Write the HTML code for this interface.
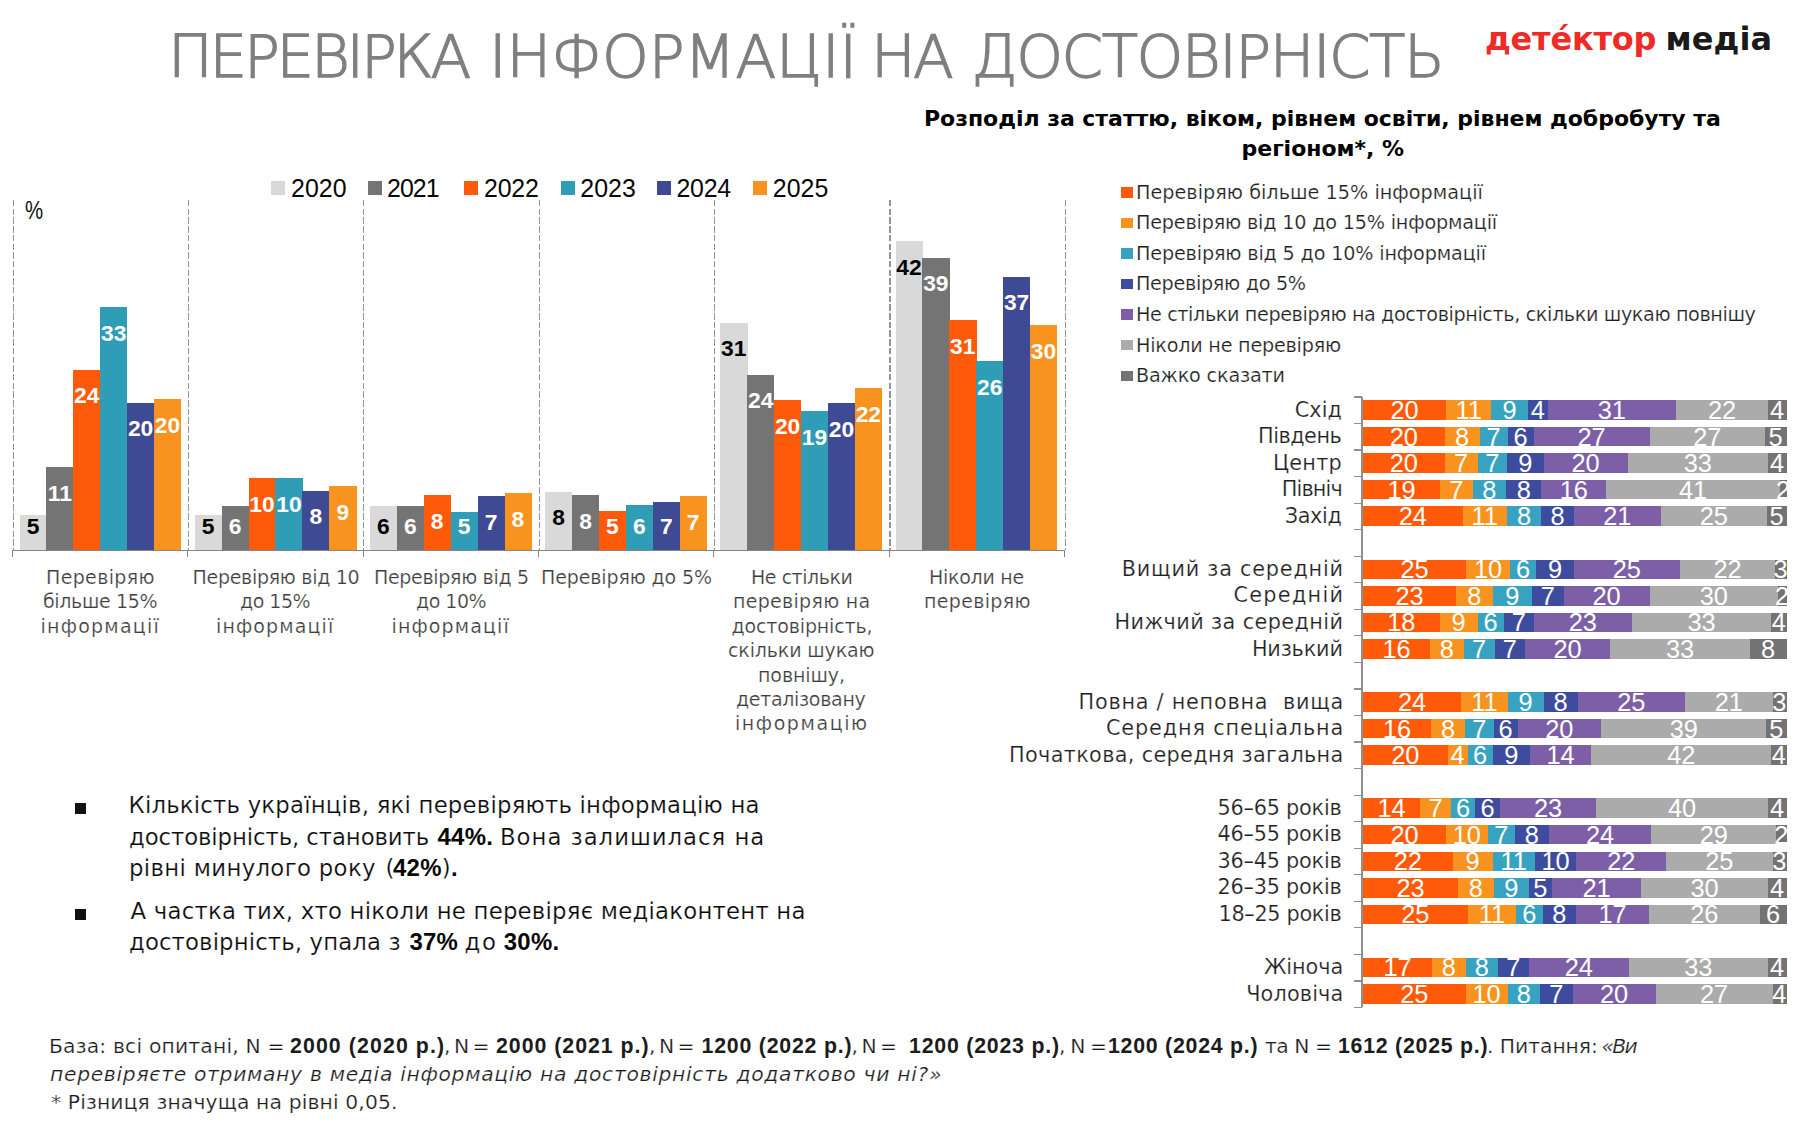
<!DOCTYPE html>
<html lang="uk"><head><meta charset="utf-8"><title>Перевірка інформації на достовірність</title>
<style>
html,body{margin:0;padding:0;background:#fff;}
#s{position:relative;width:1800px;height:1125px;overflow:hidden;background:#fff;}
#s div{position:absolute;}
#s span{position:absolute;white-space:pre;line-height:1;}
#s span b{font-weight:700;font-family:'Liberation Sans','DejaVu Sans',sans-serif;}
</style></head><body><div id="s">
<div style="left:271.00px;top:181.25px;width:14.00px;height:13.75px;background:#d9d9d9;"></div>
<div style="left:368.00px;top:181.25px;width:14.00px;height:13.75px;background:#747474;"></div>
<div style="left:464.25px;top:181.25px;width:14.00px;height:13.75px;background:#ff5a0a;"></div>
<div style="left:560.50px;top:181.25px;width:14.00px;height:13.75px;background:#2e9db5;"></div>
<div style="left:656.75px;top:181.25px;width:14.00px;height:13.75px;background:#3f4a94;"></div>
<div style="left:753.00px;top:181.25px;width:14.00px;height:13.75px;background:#f7931e;"></div>
<div style="left:12.60px;top:200px;width:1.2px;height:350px;background:repeating-linear-gradient(to bottom,#949494 0,#949494 6.4px,transparent 6.4px,transparent 8.7px);"></div>
<div style="left:11.90px;top:551.00px;width:1.20px;height:6.30px;background:#858585;"></div>
<div style="left:187.95px;top:200px;width:1.2px;height:350px;background:repeating-linear-gradient(to bottom,#949494 0,#949494 6.4px,transparent 6.4px,transparent 8.7px);"></div>
<div style="left:187.25px;top:551.00px;width:1.20px;height:6.30px;background:#858585;"></div>
<div style="left:363.30px;top:200px;width:1.2px;height:350px;background:repeating-linear-gradient(to bottom,#949494 0,#949494 6.4px,transparent 6.4px,transparent 8.7px);"></div>
<div style="left:362.60px;top:551.00px;width:1.20px;height:6.30px;background:#858585;"></div>
<div style="left:538.65px;top:200px;width:1.2px;height:350px;background:repeating-linear-gradient(to bottom,#949494 0,#949494 6.4px,transparent 6.4px,transparent 8.7px);"></div>
<div style="left:537.95px;top:551.00px;width:1.20px;height:6.30px;background:#858585;"></div>
<div style="left:714.00px;top:200px;width:1.2px;height:350px;background:repeating-linear-gradient(to bottom,#949494 0,#949494 6.4px,transparent 6.4px,transparent 8.7px);"></div>
<div style="left:713.30px;top:551.00px;width:1.20px;height:6.30px;background:#858585;"></div>
<div style="left:889.35px;top:200px;width:1.2px;height:350px;background:repeating-linear-gradient(to bottom,#949494 0,#949494 6.4px,transparent 6.4px,transparent 8.7px);"></div>
<div style="left:888.65px;top:551.00px;width:1.20px;height:6.30px;background:#858585;"></div>
<div style="left:1064.70px;top:200px;width:1.2px;height:350px;background:repeating-linear-gradient(to bottom,#949494 0,#949494 6.4px,transparent 6.4px,transparent 8.7px);"></div>
<div style="left:1064.00px;top:551.00px;width:1.20px;height:6.30px;background:#858585;"></div>
<div style="left:19.50px;top:514.50px;width:27.22px;height:36.00px;background:#d9d9d9;"></div>
<div style="left:46.42px;top:467.00px;width:27.22px;height:83.50px;background:#747474;"></div>
<div style="left:73.34px;top:369.50px;width:27.22px;height:181.00px;background:#ff5a0a;"></div>
<div style="left:100.26px;top:307.00px;width:27.22px;height:243.50px;background:#2e9db5;"></div>
<div style="left:127.18px;top:402.50px;width:27.22px;height:148.00px;background:#3f4a94;"></div>
<div style="left:154.10px;top:399.25px;width:27.22px;height:151.25px;background:#f7931e;"></div>
<div style="left:194.70px;top:514.50px;width:27.22px;height:36.00px;background:#d9d9d9;"></div>
<div style="left:221.62px;top:505.75px;width:27.22px;height:44.75px;background:#747474;"></div>
<div style="left:248.54px;top:478.00px;width:27.22px;height:72.50px;background:#ff5a0a;"></div>
<div style="left:275.46px;top:478.00px;width:27.22px;height:72.50px;background:#2e9db5;"></div>
<div style="left:302.38px;top:490.50px;width:27.22px;height:60.00px;background:#3f4a94;"></div>
<div style="left:329.30px;top:486.00px;width:27.22px;height:64.50px;background:#f7931e;"></div>
<div style="left:369.90px;top:505.75px;width:27.22px;height:44.75px;background:#d9d9d9;"></div>
<div style="left:396.82px;top:506.00px;width:27.22px;height:44.50px;background:#747474;"></div>
<div style="left:423.74px;top:495.00px;width:27.22px;height:55.50px;background:#ff5a0a;"></div>
<div style="left:450.66px;top:512.00px;width:27.22px;height:38.50px;background:#2e9db5;"></div>
<div style="left:477.58px;top:496.00px;width:27.22px;height:54.50px;background:#3f4a94;"></div>
<div style="left:504.50px;top:493.00px;width:27.22px;height:57.50px;background:#f7931e;"></div>
<div style="left:545.10px;top:491.50px;width:27.22px;height:59.00px;background:#d9d9d9;"></div>
<div style="left:572.02px;top:495.00px;width:27.22px;height:55.50px;background:#747474;"></div>
<div style="left:598.94px;top:511.00px;width:27.22px;height:39.50px;background:#ff5a0a;"></div>
<div style="left:625.86px;top:505.00px;width:27.22px;height:45.50px;background:#2e9db5;"></div>
<div style="left:652.78px;top:502.00px;width:27.22px;height:48.50px;background:#3f4a94;"></div>
<div style="left:679.70px;top:496.00px;width:27.22px;height:54.50px;background:#f7931e;"></div>
<div style="left:720.30px;top:322.50px;width:27.22px;height:228.00px;background:#d9d9d9;"></div>
<div style="left:747.22px;top:374.50px;width:27.22px;height:176.00px;background:#747474;"></div>
<div style="left:774.14px;top:400.00px;width:27.22px;height:150.50px;background:#ff5a0a;"></div>
<div style="left:801.06px;top:411.00px;width:27.22px;height:139.50px;background:#2e9db5;"></div>
<div style="left:827.98px;top:403.00px;width:27.22px;height:147.50px;background:#3f4a94;"></div>
<div style="left:854.90px;top:388.00px;width:27.22px;height:162.50px;background:#f7931e;"></div>
<div style="left:895.50px;top:241.00px;width:27.22px;height:309.50px;background:#d9d9d9;"></div>
<div style="left:922.42px;top:257.50px;width:27.22px;height:293.00px;background:#747474;"></div>
<div style="left:949.34px;top:320.00px;width:27.22px;height:230.50px;background:#ff5a0a;"></div>
<div style="left:976.26px;top:361.00px;width:27.22px;height:189.50px;background:#2e9db5;"></div>
<div style="left:1003.18px;top:276.75px;width:27.22px;height:273.75px;background:#3f4a94;"></div>
<div style="left:1030.10px;top:325.00px;width:27.22px;height:225.50px;background:#f7931e;"></div>
<div style="left:11.90px;top:550.10px;width:1053.30px;height:1.30px;background:#858585;"></div>
<div style="left:74.50px;top:803.00px;width:11.75px;height:10.75px;background:#111;"></div>
<div style="left:74.50px;top:908.75px;width:11.75px;height:10.75px;background:#111;"></div>
<div style="left:1120.80px;top:187.20px;width:11.90px;height:10.40px;background:#ff5a0a;"></div>
<div style="left:1120.80px;top:217.77px;width:11.90px;height:10.40px;background:#f7931e;"></div>
<div style="left:1120.80px;top:248.34px;width:11.90px;height:10.40px;background:#38a3c0;"></div>
<div style="left:1120.80px;top:278.91px;width:11.90px;height:10.40px;background:#3d4c9e;"></div>
<div style="left:1120.80px;top:309.48px;width:11.90px;height:10.40px;background:#7d5fa8;"></div>
<div style="left:1120.80px;top:340.05px;width:11.90px;height:10.40px;background:#ababab;"></div>
<div style="left:1120.80px;top:370.62px;width:11.90px;height:10.40px;background:#737373;"></div>
<div style="left:1361.40px;top:397.00px;width:1.20px;height:610.49px;background:#8f8f8f;"></div>
<div style="left:1354.00px;top:396.40px;width:8.00px;height:1.20px;background:#8f8f8f;"></div>
<div style="left:1354.00px;top:422.94px;width:8.00px;height:1.20px;background:#8f8f8f;"></div>
<div style="left:1354.00px;top:449.49px;width:8.00px;height:1.20px;background:#8f8f8f;"></div>
<div style="left:1354.00px;top:476.03px;width:8.00px;height:1.20px;background:#8f8f8f;"></div>
<div style="left:1354.00px;top:502.57px;width:8.00px;height:1.20px;background:#8f8f8f;"></div>
<div style="left:1354.00px;top:529.12px;width:8.00px;height:1.20px;background:#8f8f8f;"></div>
<div style="left:1354.00px;top:555.66px;width:8.00px;height:1.20px;background:#8f8f8f;"></div>
<div style="left:1354.00px;top:582.20px;width:8.00px;height:1.20px;background:#8f8f8f;"></div>
<div style="left:1354.00px;top:608.74px;width:8.00px;height:1.20px;background:#8f8f8f;"></div>
<div style="left:1354.00px;top:635.29px;width:8.00px;height:1.20px;background:#8f8f8f;"></div>
<div style="left:1354.00px;top:661.83px;width:8.00px;height:1.20px;background:#8f8f8f;"></div>
<div style="left:1354.00px;top:688.37px;width:8.00px;height:1.20px;background:#8f8f8f;"></div>
<div style="left:1354.00px;top:714.92px;width:8.00px;height:1.20px;background:#8f8f8f;"></div>
<div style="left:1354.00px;top:741.46px;width:8.00px;height:1.20px;background:#8f8f8f;"></div>
<div style="left:1354.00px;top:768.00px;width:8.00px;height:1.20px;background:#8f8f8f;"></div>
<div style="left:1354.00px;top:794.54px;width:8.00px;height:1.20px;background:#8f8f8f;"></div>
<div style="left:1354.00px;top:821.09px;width:8.00px;height:1.20px;background:#8f8f8f;"></div>
<div style="left:1354.00px;top:847.63px;width:8.00px;height:1.20px;background:#8f8f8f;"></div>
<div style="left:1354.00px;top:874.17px;width:8.00px;height:1.20px;background:#8f8f8f;"></div>
<div style="left:1354.00px;top:900.72px;width:8.00px;height:1.20px;background:#8f8f8f;"></div>
<div style="left:1354.00px;top:927.26px;width:8.00px;height:1.20px;background:#8f8f8f;"></div>
<div style="left:1354.00px;top:953.80px;width:8.00px;height:1.20px;background:#8f8f8f;"></div>
<div style="left:1354.00px;top:980.35px;width:8.00px;height:1.20px;background:#8f8f8f;"></div>
<div style="left:1354.00px;top:1006.89px;width:8.00px;height:1.20px;background:#8f8f8f;"></div>
<div style="left:1363.00px;top:400.27px;width:83.55px;height:19.50px;background:#ff5a0a;"></div>
<div style="left:1446.25px;top:400.27px;width:45.30px;height:19.50px;background:#f7931e;"></div>
<div style="left:1491.25px;top:400.27px;width:37.05px;height:19.50px;background:#38a3c0;"></div>
<div style="left:1528.00px;top:400.27px;width:19.80px;height:19.50px;background:#3d4c9e;"></div>
<div style="left:1547.50px;top:400.27px;width:129.05px;height:19.50px;background:#7d5fa8;"></div>
<div style="left:1676.25px;top:400.27px;width:92.05px;height:19.50px;background:#ababab;"></div>
<div style="left:1768.00px;top:400.27px;width:18.55px;height:19.50px;background:#737373;"></div>
<div style="left:1363.00px;top:426.81px;width:81.80px;height:19.50px;background:#ff5a0a;"></div>
<div style="left:1444.50px;top:426.81px;width:35.30px;height:19.50px;background:#f7931e;"></div>
<div style="left:1479.50px;top:426.81px;width:28.30px;height:19.50px;background:#38a3c0;"></div>
<div style="left:1507.50px;top:426.81px;width:26.55px;height:19.50px;background:#3d4c9e;"></div>
<div style="left:1533.75px;top:426.81px;width:116.05px;height:19.50px;background:#7d5fa8;"></div>
<div style="left:1649.50px;top:426.81px;width:115.80px;height:19.50px;background:#ababab;"></div>
<div style="left:1765.00px;top:426.81px;width:21.55px;height:19.50px;background:#737373;"></div>
<div style="left:1363.00px;top:453.36px;width:81.80px;height:19.50px;background:#ff5a0a;"></div>
<div style="left:1444.50px;top:453.36px;width:33.30px;height:19.50px;background:#f7931e;"></div>
<div style="left:1477.50px;top:453.36px;width:29.80px;height:19.50px;background:#38a3c0;"></div>
<div style="left:1507.00px;top:453.36px;width:37.05px;height:19.50px;background:#3d4c9e;"></div>
<div style="left:1543.75px;top:453.36px;width:84.05px;height:19.50px;background:#7d5fa8;"></div>
<div style="left:1627.50px;top:453.36px;width:140.80px;height:19.50px;background:#ababab;"></div>
<div style="left:1768.00px;top:453.36px;width:18.55px;height:19.50px;background:#737373;"></div>
<div style="left:1363.00px;top:479.90px;width:77.30px;height:19.50px;background:#ff5a0a;"></div>
<div style="left:1440.00px;top:479.90px;width:32.80px;height:19.50px;background:#f7931e;"></div>
<div style="left:1472.50px;top:479.90px;width:34.05px;height:19.50px;background:#38a3c0;"></div>
<div style="left:1506.25px;top:479.90px;width:35.30px;height:19.50px;background:#3d4c9e;"></div>
<div style="left:1541.25px;top:479.90px;width:65.30px;height:19.50px;background:#7d5fa8;"></div>
<div style="left:1606.25px;top:479.90px;width:174.05px;height:19.50px;background:#ababab;"></div>
<div style="left:1780.00px;top:479.90px;width:6.55px;height:19.50px;background:#737373;"></div>
<div style="left:1363.00px;top:506.44px;width:99.80px;height:19.50px;background:#ff5a0a;"></div>
<div style="left:1462.50px;top:506.44px;width:44.80px;height:19.50px;background:#f7931e;"></div>
<div style="left:1507.00px;top:506.44px;width:34.55px;height:19.50px;background:#38a3c0;"></div>
<div style="left:1541.25px;top:506.44px;width:32.80px;height:19.50px;background:#3d4c9e;"></div>
<div style="left:1573.75px;top:506.44px;width:87.30px;height:19.50px;background:#7d5fa8;"></div>
<div style="left:1660.75px;top:506.44px;width:106.55px;height:19.50px;background:#ababab;"></div>
<div style="left:1767.00px;top:506.44px;width:19.55px;height:19.50px;background:#737373;"></div>
<div style="left:1363.00px;top:559.53px;width:103.55px;height:19.50px;background:#ff5a0a;"></div>
<div style="left:1466.25px;top:559.53px;width:44.05px;height:19.50px;background:#f7931e;"></div>
<div style="left:1510.00px;top:559.53px;width:26.55px;height:19.50px;background:#38a3c0;"></div>
<div style="left:1536.25px;top:559.53px;width:37.80px;height:19.50px;background:#3d4c9e;"></div>
<div style="left:1573.75px;top:559.53px;width:106.55px;height:19.50px;background:#7d5fa8;"></div>
<div style="left:1680.00px;top:559.53px;width:95.30px;height:19.50px;background:#ababab;"></div>
<div style="left:1775.00px;top:559.53px;width:11.55px;height:19.50px;background:#737373;"></div>
<div style="left:1363.00px;top:586.07px;width:93.55px;height:19.50px;background:#ff5a0a;"></div>
<div style="left:1456.25px;top:586.07px;width:36.55px;height:19.50px;background:#f7931e;"></div>
<div style="left:1492.50px;top:586.07px;width:39.80px;height:19.50px;background:#38a3c0;"></div>
<div style="left:1532.00px;top:586.07px;width:32.05px;height:19.50px;background:#3d4c9e;"></div>
<div style="left:1563.75px;top:586.07px;width:86.05px;height:19.50px;background:#7d5fa8;"></div>
<div style="left:1649.50px;top:586.07px;width:128.80px;height:19.50px;background:#ababab;"></div>
<div style="left:1778.00px;top:586.07px;width:8.55px;height:19.50px;background:#737373;"></div>
<div style="left:1363.00px;top:612.62px;width:76.80px;height:19.50px;background:#ff5a0a;"></div>
<div style="left:1439.50px;top:612.62px;width:38.30px;height:19.50px;background:#f7931e;"></div>
<div style="left:1477.50px;top:612.62px;width:26.55px;height:19.50px;background:#38a3c0;"></div>
<div style="left:1503.75px;top:612.62px;width:30.30px;height:19.50px;background:#3d4c9e;"></div>
<div style="left:1533.75px;top:612.62px;width:98.30px;height:19.50px;background:#7d5fa8;"></div>
<div style="left:1631.75px;top:612.62px;width:139.80px;height:19.50px;background:#ababab;"></div>
<div style="left:1771.25px;top:612.62px;width:15.30px;height:19.50px;background:#737373;"></div>
<div style="left:1363.00px;top:639.16px;width:67.30px;height:19.50px;background:#ff5a0a;"></div>
<div style="left:1430.00px;top:639.16px;width:34.05px;height:19.50px;background:#f7931e;"></div>
<div style="left:1463.75px;top:639.16px;width:31.05px;height:19.50px;background:#38a3c0;"></div>
<div style="left:1494.50px;top:639.16px;width:30.80px;height:19.50px;background:#3d4c9e;"></div>
<div style="left:1525.00px;top:639.16px;width:85.30px;height:19.50px;background:#7d5fa8;"></div>
<div style="left:1610.00px;top:639.16px;width:140.30px;height:19.50px;background:#ababab;"></div>
<div style="left:1750.00px;top:639.16px;width:36.55px;height:19.50px;background:#737373;"></div>
<div style="left:1363.00px;top:692.24px;width:98.55px;height:19.50px;background:#ff5a0a;"></div>
<div style="left:1461.25px;top:692.24px;width:46.55px;height:19.50px;background:#f7931e;"></div>
<div style="left:1507.50px;top:692.24px;width:36.55px;height:19.50px;background:#38a3c0;"></div>
<div style="left:1543.75px;top:692.24px;width:34.05px;height:19.50px;background:#3d4c9e;"></div>
<div style="left:1577.50px;top:692.24px;width:107.80px;height:19.50px;background:#7d5fa8;"></div>
<div style="left:1685.00px;top:692.24px;width:87.80px;height:19.50px;background:#ababab;"></div>
<div style="left:1772.50px;top:692.24px;width:14.05px;height:19.50px;background:#737373;"></div>
<div style="left:1363.00px;top:718.79px;width:68.55px;height:19.50px;background:#ff5a0a;"></div>
<div style="left:1431.25px;top:718.79px;width:34.05px;height:19.50px;background:#f7931e;"></div>
<div style="left:1465.00px;top:718.79px;width:29.05px;height:19.50px;background:#38a3c0;"></div>
<div style="left:1493.75px;top:718.79px;width:24.05px;height:19.50px;background:#3d4c9e;"></div>
<div style="left:1517.50px;top:718.79px;width:84.05px;height:19.50px;background:#7d5fa8;"></div>
<div style="left:1601.25px;top:718.79px;width:165.30px;height:19.50px;background:#ababab;"></div>
<div style="left:1766.25px;top:718.79px;width:20.30px;height:19.50px;background:#737373;"></div>
<div style="left:1363.00px;top:745.33px;width:84.80px;height:19.50px;background:#ff5a0a;"></div>
<div style="left:1447.50px;top:745.33px;width:20.30px;height:19.50px;background:#f7931e;"></div>
<div style="left:1467.50px;top:745.33px;width:25.30px;height:19.50px;background:#38a3c0;"></div>
<div style="left:1492.50px;top:745.33px;width:37.80px;height:19.50px;background:#3d4c9e;"></div>
<div style="left:1530.00px;top:745.33px;width:61.55px;height:19.50px;background:#7d5fa8;"></div>
<div style="left:1591.25px;top:745.33px;width:180.30px;height:19.50px;background:#ababab;"></div>
<div style="left:1771.25px;top:745.33px;width:15.30px;height:19.50px;background:#737373;"></div>
<div style="left:1363.00px;top:798.42px;width:57.30px;height:19.50px;background:#ff5a0a;"></div>
<div style="left:1420.00px;top:798.42px;width:31.55px;height:19.50px;background:#f7931e;"></div>
<div style="left:1451.25px;top:798.42px;width:24.05px;height:19.50px;background:#38a3c0;"></div>
<div style="left:1475.00px;top:798.42px;width:25.30px;height:19.50px;background:#3d4c9e;"></div>
<div style="left:1500.00px;top:798.42px;width:96.55px;height:19.50px;background:#7d5fa8;"></div>
<div style="left:1596.25px;top:798.42px;width:172.05px;height:19.50px;background:#ababab;"></div>
<div style="left:1768.00px;top:798.42px;width:18.55px;height:19.50px;background:#737373;"></div>
<div style="left:1363.00px;top:824.96px;width:83.55px;height:19.50px;background:#ff5a0a;"></div>
<div style="left:1446.25px;top:824.96px;width:41.55px;height:19.50px;background:#f7931e;"></div>
<div style="left:1487.50px;top:824.96px;width:27.80px;height:19.50px;background:#38a3c0;"></div>
<div style="left:1515.00px;top:824.96px;width:34.05px;height:19.50px;background:#3d4c9e;"></div>
<div style="left:1548.75px;top:824.96px;width:102.80px;height:19.50px;background:#7d5fa8;"></div>
<div style="left:1651.25px;top:824.96px;width:125.30px;height:19.50px;background:#ababab;"></div>
<div style="left:1776.25px;top:824.96px;width:10.30px;height:19.50px;background:#737373;"></div>
<div style="left:1363.00px;top:851.50px;width:89.80px;height:19.50px;background:#ff5a0a;"></div>
<div style="left:1452.50px;top:851.50px;width:40.30px;height:19.50px;background:#f7931e;"></div>
<div style="left:1492.50px;top:851.50px;width:42.80px;height:19.50px;background:#38a3c0;"></div>
<div style="left:1535.00px;top:851.50px;width:41.55px;height:19.50px;background:#3d4c9e;"></div>
<div style="left:1576.25px;top:851.50px;width:90.30px;height:19.50px;background:#7d5fa8;"></div>
<div style="left:1666.25px;top:851.50px;width:106.55px;height:19.50px;background:#ababab;"></div>
<div style="left:1772.50px;top:851.50px;width:14.05px;height:19.50px;background:#737373;"></div>
<div style="left:1363.00px;top:878.05px;width:95.30px;height:19.50px;background:#ff5a0a;"></div>
<div style="left:1458.00px;top:878.05px;width:36.05px;height:19.50px;background:#f7931e;"></div>
<div style="left:1493.75px;top:878.05px;width:35.30px;height:19.50px;background:#38a3c0;"></div>
<div style="left:1528.75px;top:878.05px;width:23.55px;height:19.50px;background:#3d4c9e;"></div>
<div style="left:1552.00px;top:878.05px;width:89.55px;height:19.50px;background:#7d5fa8;"></div>
<div style="left:1641.25px;top:878.05px;width:127.05px;height:19.50px;background:#ababab;"></div>
<div style="left:1768.00px;top:878.05px;width:18.55px;height:19.50px;background:#737373;"></div>
<div style="left:1363.00px;top:904.59px;width:104.80px;height:19.50px;background:#ff5a0a;"></div>
<div style="left:1467.50px;top:904.59px;width:49.05px;height:19.50px;background:#f7931e;"></div>
<div style="left:1516.25px;top:904.59px;width:26.55px;height:19.50px;background:#38a3c0;"></div>
<div style="left:1542.50px;top:904.59px;width:34.05px;height:19.50px;background:#3d4c9e;"></div>
<div style="left:1576.25px;top:904.59px;width:72.80px;height:19.50px;background:#7d5fa8;"></div>
<div style="left:1648.75px;top:904.59px;width:111.55px;height:19.50px;background:#ababab;"></div>
<div style="left:1760.00px;top:904.59px;width:26.55px;height:19.50px;background:#737373;"></div>
<div style="left:1363.00px;top:957.67px;width:69.30px;height:19.50px;background:#ff5a0a;"></div>
<div style="left:1432.00px;top:957.67px;width:33.80px;height:19.50px;background:#f7931e;"></div>
<div style="left:1465.50px;top:957.67px;width:32.80px;height:19.50px;background:#38a3c0;"></div>
<div style="left:1498.00px;top:957.67px;width:31.05px;height:19.50px;background:#3d4c9e;"></div>
<div style="left:1528.75px;top:957.67px;width:100.30px;height:19.50px;background:#7d5fa8;"></div>
<div style="left:1628.75px;top:957.67px;width:139.55px;height:19.50px;background:#ababab;"></div>
<div style="left:1768.00px;top:957.67px;width:18.55px;height:19.50px;background:#737373;"></div>
<div style="left:1363.00px;top:984.22px;width:102.80px;height:19.50px;background:#ff5a0a;"></div>
<div style="left:1465.50px;top:984.22px;width:42.30px;height:19.50px;background:#f7931e;"></div>
<div style="left:1507.50px;top:984.22px;width:32.80px;height:19.50px;background:#38a3c0;"></div>
<div style="left:1540.00px;top:984.22px;width:32.80px;height:19.50px;background:#3d4c9e;"></div>
<div style="left:1572.50px;top:984.22px;width:83.30px;height:19.50px;background:#7d5fa8;"></div>
<div style="left:1655.50px;top:984.22px;width:117.30px;height:19.50px;background:#ababab;"></div>
<div style="left:1772.50px;top:984.22px;width:14.05px;height:19.50px;background:#737373;"></div>
<span style="font-family:'DejaVu Sans Light', 'DejaVu Sans', sans-serif;font-size:59.5px;font-weight:200;color:#7f7f7f;top:26.63px;letter-spacing:-3.250px;left:168.10px;-webkit-text-stroke:1.3px #7f7f7f;">ПЕРЕВІРКА</span>
<span style="font-family:'DejaVu Sans Light', 'DejaVu Sans', sans-serif;font-size:59.5px;font-weight:200;color:#7f7f7f;top:26.63px;letter-spacing:-0.187px;left:489.10px;-webkit-text-stroke:1.3px #7f7f7f;">ІНФОРМАЦІЇ</span>
<span style="font-family:'DejaVu Sans Light', 'DejaVu Sans', sans-serif;font-size:59.5px;font-weight:200;color:#7f7f7f;top:26.63px;letter-spacing:-2.950px;left:871.10px;-webkit-text-stroke:1.3px #7f7f7f;">НА</span>
<span style="font-family:'DejaVu Sans Light', 'DejaVu Sans', sans-serif;font-size:59.5px;font-weight:200;color:#7f7f7f;top:26.63px;letter-spacing:-1.502px;left:971.60px;-webkit-text-stroke:1.3px #7f7f7f;">ДОСТОВІРНІСТЬ</span>
<span style="font-family:'DejaVu Sans', 'Liberation Sans', sans-serif;font-size:32px;font-weight:700;color:#ee2b24;top:23.41px;letter-spacing:-0.221px;left:1485.00px;">дет&#1077;&#769;ктор</span>
<span style="font-family:'DejaVu Sans', 'Liberation Sans', sans-serif;font-size:32px;font-weight:700;color:#1a1a1a;top:23.41px;letter-spacing:0.082px;left:1665.50px;">медіа</span>
<span style="font-family:'DejaVu Sans', 'Liberation Sans', sans-serif;font-size:22px;font-weight:700;color:#000;top:108.13px;letter-spacing:-0.030px;left:924.00px;">Розподіл за статтю, віком, рівнем освіти, рівнем добробуту та</span>
<span style="font-family:'DejaVu Sans', 'Liberation Sans', sans-serif;font-size:22px;font-weight:700;color:#000;top:137.63px;letter-spacing:-0.013px;left:1241.50px;">регіоном*, %</span>
<span style="font-family:'Liberation Sans', 'DejaVu Sans', sans-serif;font-size:24.9px;font-weight:400;color:#080808;top:175.92px;letter-spacing:0.073px;left:291.00px;">2020</span>
<span style="font-family:'Liberation Sans', 'DejaVu Sans', sans-serif;font-size:24.9px;font-weight:400;color:#080808;top:175.92px;letter-spacing:-0.927px;left:387.00px;">2021</span>
<span style="font-family:'Liberation Sans', 'DejaVu Sans', sans-serif;font-size:24.9px;font-weight:400;color:#080808;top:175.92px;letter-spacing:-0.177px;left:484.00px;">2022</span>
<span style="font-family:'Liberation Sans', 'DejaVu Sans', sans-serif;font-size:24.9px;font-weight:400;color:#080808;top:175.92px;letter-spacing:0.073px;left:580.25px;">2023</span>
<span style="font-family:'Liberation Sans', 'DejaVu Sans', sans-serif;font-size:24.9px;font-weight:400;color:#080808;top:175.92px;letter-spacing:-0.261px;left:676.50px;">2024</span>
<span style="font-family:'Liberation Sans', 'DejaVu Sans', sans-serif;font-size:24.9px;font-weight:400;color:#080808;top:175.92px;letter-spacing:0.073px;left:772.75px;">2025</span>
<span style="font-family:'Liberation Sans', 'DejaVu Sans', sans-serif;font-size:25.5px;font-weight:400;color:#111;top:197.91px;letter-spacing:0.000px;left:25.00px;transform:scaleX(0.8);transform-origin:0 0;">%</span>
<span style="font-family:'Liberation Sans', 'DejaVu Sans', sans-serif;font-size:22.8px;font-weight:700;color:#000;top:515.45px;left:-7.04px;width:80px;text-align:center;">5</span>
<span style="font-family:'Liberation Sans', 'DejaVu Sans', sans-serif;font-size:22.8px;font-weight:700;color:#fff;top:481.60px;left:19.88px;width:80px;text-align:center;">11</span>
<span style="font-family:'Liberation Sans', 'DejaVu Sans', sans-serif;font-size:22.8px;font-weight:700;color:#fff;top:384.10px;left:46.80px;width:80px;text-align:center;">24</span>
<span style="font-family:'Liberation Sans', 'DejaVu Sans', sans-serif;font-size:22.8px;font-weight:700;color:#fff;top:321.60px;left:73.72px;width:80px;text-align:center;">33</span>
<span style="font-family:'Liberation Sans', 'DejaVu Sans', sans-serif;font-size:22.8px;font-weight:700;color:#fff;top:417.10px;left:100.64px;width:80px;text-align:center;">20</span>
<span style="font-family:'Liberation Sans', 'DejaVu Sans', sans-serif;font-size:22.8px;font-weight:700;color:#fff;top:413.85px;left:127.56px;width:80px;text-align:center;">20</span>
<span style="font-family:'Liberation Sans', 'DejaVu Sans', sans-serif;font-size:22.8px;font-weight:700;color:#000;top:515.45px;left:168.16px;width:80px;text-align:center;">5</span>
<span style="font-family:'Liberation Sans', 'DejaVu Sans', sans-serif;font-size:22.8px;font-weight:700;color:#fff;top:515.45px;left:195.08px;width:80px;text-align:center;">6</span>
<span style="font-family:'Liberation Sans', 'DejaVu Sans', sans-serif;font-size:22.8px;font-weight:700;color:#fff;top:492.60px;left:222.00px;width:80px;text-align:center;">10</span>
<span style="font-family:'Liberation Sans', 'DejaVu Sans', sans-serif;font-size:22.8px;font-weight:700;color:#fff;top:492.60px;left:248.92px;width:80px;text-align:center;">10</span>
<span style="font-family:'Liberation Sans', 'DejaVu Sans', sans-serif;font-size:22.8px;font-weight:700;color:#fff;top:505.10px;left:275.84px;width:80px;text-align:center;">8</span>
<span style="font-family:'Liberation Sans', 'DejaVu Sans', sans-serif;font-size:22.8px;font-weight:700;color:#fff;top:500.60px;left:302.76px;width:80px;text-align:center;">9</span>
<span style="font-family:'Liberation Sans', 'DejaVu Sans', sans-serif;font-size:22.8px;font-weight:700;color:#000;top:515.45px;left:343.36px;width:80px;text-align:center;">6</span>
<span style="font-family:'Liberation Sans', 'DejaVu Sans', sans-serif;font-size:22.8px;font-weight:700;color:#fff;top:515.45px;left:370.28px;width:80px;text-align:center;">6</span>
<span style="font-family:'Liberation Sans', 'DejaVu Sans', sans-serif;font-size:22.8px;font-weight:700;color:#fff;top:509.60px;left:397.20px;width:80px;text-align:center;">8</span>
<span style="font-family:'Liberation Sans', 'DejaVu Sans', sans-serif;font-size:22.8px;font-weight:700;color:#fff;top:515.45px;left:424.12px;width:80px;text-align:center;">5</span>
<span style="font-family:'Liberation Sans', 'DejaVu Sans', sans-serif;font-size:22.8px;font-weight:700;color:#fff;top:510.60px;left:451.04px;width:80px;text-align:center;">7</span>
<span style="font-family:'Liberation Sans', 'DejaVu Sans', sans-serif;font-size:22.8px;font-weight:700;color:#fff;top:507.60px;left:477.96px;width:80px;text-align:center;">8</span>
<span style="font-family:'Liberation Sans', 'DejaVu Sans', sans-serif;font-size:22.8px;font-weight:700;color:#000;top:506.10px;left:518.56px;width:80px;text-align:center;">8</span>
<span style="font-family:'Liberation Sans', 'DejaVu Sans', sans-serif;font-size:22.8px;font-weight:700;color:#fff;top:509.60px;left:545.48px;width:80px;text-align:center;">8</span>
<span style="font-family:'Liberation Sans', 'DejaVu Sans', sans-serif;font-size:22.8px;font-weight:700;color:#fff;top:515.45px;left:572.40px;width:80px;text-align:center;">5</span>
<span style="font-family:'Liberation Sans', 'DejaVu Sans', sans-serif;font-size:22.8px;font-weight:700;color:#fff;top:515.45px;left:599.32px;width:80px;text-align:center;">6</span>
<span style="font-family:'Liberation Sans', 'DejaVu Sans', sans-serif;font-size:22.8px;font-weight:700;color:#fff;top:515.45px;left:626.24px;width:80px;text-align:center;">7</span>
<span style="font-family:'Liberation Sans', 'DejaVu Sans', sans-serif;font-size:22.8px;font-weight:700;color:#fff;top:510.60px;left:653.16px;width:80px;text-align:center;">7</span>
<span style="font-family:'Liberation Sans', 'DejaVu Sans', sans-serif;font-size:22.8px;font-weight:700;color:#000;top:337.10px;left:693.76px;width:80px;text-align:center;">31</span>
<span style="font-family:'Liberation Sans', 'DejaVu Sans', sans-serif;font-size:22.8px;font-weight:700;color:#fff;top:389.10px;left:720.68px;width:80px;text-align:center;">24</span>
<span style="font-family:'Liberation Sans', 'DejaVu Sans', sans-serif;font-size:22.8px;font-weight:700;color:#fff;top:414.60px;left:747.60px;width:80px;text-align:center;">20</span>
<span style="font-family:'Liberation Sans', 'DejaVu Sans', sans-serif;font-size:22.8px;font-weight:700;color:#fff;top:425.60px;left:774.52px;width:80px;text-align:center;">19</span>
<span style="font-family:'Liberation Sans', 'DejaVu Sans', sans-serif;font-size:22.8px;font-weight:700;color:#fff;top:417.60px;left:801.44px;width:80px;text-align:center;">20</span>
<span style="font-family:'Liberation Sans', 'DejaVu Sans', sans-serif;font-size:22.8px;font-weight:700;color:#fff;top:402.60px;left:828.36px;width:80px;text-align:center;">22</span>
<span style="font-family:'Liberation Sans', 'DejaVu Sans', sans-serif;font-size:22.8px;font-weight:700;color:#000;top:255.60px;left:868.96px;width:80px;text-align:center;">42</span>
<span style="font-family:'Liberation Sans', 'DejaVu Sans', sans-serif;font-size:22.8px;font-weight:700;color:#fff;top:272.10px;left:895.88px;width:80px;text-align:center;">39</span>
<span style="font-family:'Liberation Sans', 'DejaVu Sans', sans-serif;font-size:22.8px;font-weight:700;color:#fff;top:334.60px;left:922.80px;width:80px;text-align:center;">31</span>
<span style="font-family:'Liberation Sans', 'DejaVu Sans', sans-serif;font-size:22.8px;font-weight:700;color:#fff;top:375.60px;left:949.72px;width:80px;text-align:center;">26</span>
<span style="font-family:'Liberation Sans', 'DejaVu Sans', sans-serif;font-size:22.8px;font-weight:700;color:#fff;top:291.35px;left:976.64px;width:80px;text-align:center;">37</span>
<span style="font-family:'Liberation Sans', 'DejaVu Sans', sans-serif;font-size:22.8px;font-weight:700;color:#fff;top:339.60px;left:1003.56px;width:80px;text-align:center;">30</span>
<span style="font-family:'DejaVu Sans', 'Liberation Sans', sans-serif;font-size:19px;font-weight:400;color:#3d3d3d;top:567.62px;letter-spacing:0.351px;left:46.00px;-webkit-text-stroke:0.22px #fff;">Перевіряю</span>
<span style="font-family:'DejaVu Sans', 'Liberation Sans', sans-serif;font-size:19px;font-weight:400;color:#3d3d3d;top:592.09px;letter-spacing:-0.348px;left:43.00px;-webkit-text-stroke:0.22px #fff;">більше 15%</span>
<span style="font-family:'DejaVu Sans', 'Liberation Sans', sans-serif;font-size:19px;font-weight:400;color:#3d3d3d;top:616.56px;letter-spacing:1.241px;left:40.50px;-webkit-text-stroke:0.22px #fff;">інформації</span>
<span style="font-family:'DejaVu Sans', 'Liberation Sans', sans-serif;font-size:19px;font-weight:400;color:#3d3d3d;top:567.62px;letter-spacing:-0.298px;left:192.50px;-webkit-text-stroke:0.22px #fff;">Перевіряю від 10</span>
<span style="font-family:'DejaVu Sans', 'Liberation Sans', sans-serif;font-size:19px;font-weight:400;color:#3d3d3d;top:592.09px;letter-spacing:-0.496px;left:240.00px;-webkit-text-stroke:0.22px #fff;">до 15%</span>
<span style="font-family:'DejaVu Sans', 'Liberation Sans', sans-serif;font-size:19px;font-weight:400;color:#3d3d3d;top:616.56px;letter-spacing:1.130px;left:216.00px;-webkit-text-stroke:0.22px #fff;">інформації</span>
<span style="font-family:'DejaVu Sans', 'Liberation Sans', sans-serif;font-size:19px;font-weight:400;color:#3d3d3d;top:567.62px;letter-spacing:-0.313px;left:374.00px;-webkit-text-stroke:0.22px #fff;">Перевіряю від 5</span>
<span style="font-family:'DejaVu Sans', 'Liberation Sans', sans-serif;font-size:19px;font-weight:400;color:#3d3d3d;top:592.09px;letter-spacing:-0.496px;left:416.00px;-webkit-text-stroke:0.22px #fff;">до 10%</span>
<span style="font-family:'DejaVu Sans', 'Liberation Sans', sans-serif;font-size:19px;font-weight:400;color:#3d3d3d;top:616.56px;letter-spacing:1.130px;left:391.50px;-webkit-text-stroke:0.22px #fff;">інформації</span>
<span style="font-family:'DejaVu Sans', 'Liberation Sans', sans-serif;font-size:19px;font-weight:400;color:#3d3d3d;top:567.62px;letter-spacing:-0.116px;left:541.00px;-webkit-text-stroke:0.22px #fff;">Перевіряю до 5%</span>
<span style="font-family:'DejaVu Sans', 'Liberation Sans', sans-serif;font-size:19px;font-weight:400;color:#3d3d3d;top:567.62px;letter-spacing:-0.460px;left:751.00px;-webkit-text-stroke:0.22px #fff;">Не стільки</span>
<span style="font-family:'DejaVu Sans', 'Liberation Sans', sans-serif;font-size:19px;font-weight:400;color:#3d3d3d;top:592.09px;letter-spacing:0.291px;left:733.00px;-webkit-text-stroke:0.22px #fff;">перевіряю на</span>
<span style="font-family:'DejaVu Sans', 'Liberation Sans', sans-serif;font-size:19px;font-weight:400;color:#3d3d3d;top:616.56px;letter-spacing:-0.142px;left:731.50px;-webkit-text-stroke:0.22px #fff;">достовірність,</span>
<span style="font-family:'DejaVu Sans', 'Liberation Sans', sans-serif;font-size:19px;font-weight:400;color:#3d3d3d;top:641.03px;letter-spacing:-0.139px;left:728.00px;-webkit-text-stroke:0.22px #fff;">скільки шукаю</span>
<span style="font-family:'DejaVu Sans', 'Liberation Sans', sans-serif;font-size:19px;font-weight:400;color:#3d3d3d;top:665.50px;letter-spacing:-0.084px;left:758.00px;-webkit-text-stroke:0.22px #fff;">повнішу,</span>
<span style="font-family:'DejaVu Sans', 'Liberation Sans', sans-serif;font-size:19px;font-weight:400;color:#3d3d3d;top:689.97px;letter-spacing:-0.314px;left:736.00px;-webkit-text-stroke:0.22px #fff;">деталізовану</span>
<span style="font-family:'DejaVu Sans', 'Liberation Sans', sans-serif;font-size:19px;font-weight:400;color:#3d3d3d;top:714.44px;letter-spacing:1.574px;left:735.00px;-webkit-text-stroke:0.22px #fff;">інформацію</span>
<span style="font-family:'DejaVu Sans', 'Liberation Sans', sans-serif;font-size:19px;font-weight:400;color:#3d3d3d;top:567.62px;letter-spacing:-0.265px;left:929.00px;-webkit-text-stroke:0.22px #fff;">Ніколи не</span>
<span style="font-family:'DejaVu Sans', 'Liberation Sans', sans-serif;font-size:19px;font-weight:400;color:#3d3d3d;top:592.09px;letter-spacing:0.333px;left:924.00px;-webkit-text-stroke:0.22px #fff;">перевіряю</span>
<span style="font-family:'DejaVu Sans', 'Liberation Sans', sans-serif;font-size:22.8px;font-weight:400;color:#080808;top:794.45px;letter-spacing:0.205px;left:128.50px;-webkit-text-stroke:0.22px #fff;">Кількість українців, які перевіряють інформацію на</span>
<span style="font-family:'DejaVu Sans', 'Liberation Sans', sans-serif;font-size:22.8px;font-weight:400;color:#080808;top:825.70px;letter-spacing:-0.092px;left:129.00px;-webkit-text-stroke:0.22px #fff;">достовірність, становить</span>
<span style="font-family:'Liberation Sans', 'DejaVu Sans', sans-serif;font-size:23.94px;font-weight:700;color:#080808;top:824.73px;letter-spacing:0.279px;left:437.50px;">44%.</span>
<span style="font-family:'DejaVu Sans', 'Liberation Sans', sans-serif;font-size:22.8px;font-weight:400;color:#080808;top:825.70px;letter-spacing:0.970px;left:500.00px;-webkit-text-stroke:0.22px #fff;">Вона залишилася на</span>
<span style="font-family:'DejaVu Sans', 'Liberation Sans', sans-serif;font-size:22.8px;font-weight:400;color:#080808;top:856.70px;letter-spacing:0.332px;left:129.00px;-webkit-text-stroke:0.22px #fff;">рівні минулого року</span>
<span style="font-family:'DejaVu Sans', 'Liberation Sans', sans-serif;font-size:22.8px;font-weight:400;color:#080808;top:856.70px;letter-spacing:0.000px;left:385.50px;-webkit-text-stroke:0.22px #fff;">(</span>
<span style="font-family:'Liberation Sans', 'DejaVu Sans', sans-serif;font-size:23.94px;font-weight:700;color:#080808;top:855.73px;letter-spacing:0.306px;left:393.00px;">42%</span>
<span style="font-family:'DejaVu Sans', 'Liberation Sans', sans-serif;font-size:22.8px;font-weight:400;color:#080808;top:856.70px;letter-spacing:0.000px;left:441.70px;-webkit-text-stroke:0.22px #fff;">)</span>
<span style="font-family:'Liberation Sans', 'DejaVu Sans', sans-serif;font-size:23.94px;font-weight:700;color:#080808;top:855.73px;letter-spacing:0.000px;left:451.00px;">.</span>
<span style="font-family:'DejaVu Sans', 'Liberation Sans', sans-serif;font-size:22.8px;font-weight:400;color:#080808;top:899.95px;letter-spacing:0.219px;left:130.50px;-webkit-text-stroke:0.22px #fff;">А частка тих, хто ніколи не перевіряє медіаконтент на</span>
<span style="font-family:'DejaVu Sans', 'Liberation Sans', sans-serif;font-size:22.8px;font-weight:400;color:#080808;top:931.20px;letter-spacing:0.126px;left:129.00px;-webkit-text-stroke:0.22px #fff;">достовірність, упала з</span>
<span style="font-family:'Liberation Sans', 'DejaVu Sans', sans-serif;font-size:23.94px;font-weight:700;color:#080808;top:930.23px;letter-spacing:0.181px;left:409.50px;">37%</span>
<span style="font-family:'DejaVu Sans', 'Liberation Sans', sans-serif;font-size:22.8px;font-weight:400;color:#080808;top:931.20px;letter-spacing:1.729px;left:464.50px;-webkit-text-stroke:0.22px #fff;">до</span>
<span style="font-family:'Liberation Sans', 'DejaVu Sans', sans-serif;font-size:23.94px;font-weight:700;color:#080808;top:930.23px;letter-spacing:0.279px;left:503.75px;">30%.</span>
<span style="font-family:'DejaVu Sans', 'Liberation Sans', sans-serif;font-size:20.3px;font-weight:400;color:#1c1c1c;top:1036.42px;letter-spacing:0.189px;left:49.00px;-webkit-text-stroke:0.22px #fff;">База: всі опитані, N =</span>
<span style="font-family:'Liberation Sans', 'DejaVu Sans', sans-serif;font-size:21.315px;font-weight:700;color:#1c1c1c;top:1035.56px;letter-spacing:1.107px;left:290.00px;">2000 (2020 р.)</span>
<span style="font-family:'DejaVu Sans', 'Liberation Sans', sans-serif;font-size:20.3px;font-weight:400;color:#1c1c1c;top:1036.42px;letter-spacing:-1.506px;left:444.00px;-webkit-text-stroke:0.22px #fff;">, N =</span>
<span style="font-family:'Liberation Sans', 'DejaVu Sans', sans-serif;font-size:21.315px;font-weight:700;color:#1c1c1c;top:1035.56px;letter-spacing:0.991px;left:496.00px;">2000 (2021 р.)</span>
<span style="font-family:'DejaVu Sans', 'Liberation Sans', sans-serif;font-size:20.3px;font-weight:400;color:#1c1c1c;top:1036.42px;letter-spacing:-1.506px;left:649.00px;-webkit-text-stroke:0.22px #fff;">, N =</span>
<span style="font-family:'Liberation Sans', 'DejaVu Sans', sans-serif;font-size:21.315px;font-weight:700;color:#1c1c1c;top:1035.56px;letter-spacing:0.799px;left:701.50px;">1200 (2022 р.)</span>
<span style="font-family:'DejaVu Sans', 'Liberation Sans', sans-serif;font-size:20.3px;font-weight:400;color:#1c1c1c;top:1036.42px;letter-spacing:-1.506px;left:851.50px;-webkit-text-stroke:0.22px #fff;">, N =</span>
<span style="font-family:'Liberation Sans', 'DejaVu Sans', sans-serif;font-size:21.315px;font-weight:700;color:#1c1c1c;top:1035.56px;letter-spacing:0.799px;left:909.00px;">1200 (2023 р.)</span>
<span style="font-family:'DejaVu Sans', 'Liberation Sans', sans-serif;font-size:20.3px;font-weight:400;color:#1c1c1c;top:1036.42px;letter-spacing:-0.881px;left:1059.00px;-webkit-text-stroke:0.22px #fff;">, N =</span>
<span style="font-family:'Liberation Sans', 'DejaVu Sans', sans-serif;font-size:21.315px;font-weight:700;color:#1c1c1c;top:1035.56px;letter-spacing:0.761px;left:1108.00px;">1200 (2024 р.)</span>
<span style="font-family:'DejaVu Sans', 'Liberation Sans', sans-serif;font-size:20.3px;font-weight:400;color:#1c1c1c;top:1036.42px;letter-spacing:-0.464px;left:1265.00px;-webkit-text-stroke:0.22px #fff;">та N =</span>
<span style="font-family:'Liberation Sans', 'DejaVu Sans', sans-serif;font-size:21.315px;font-weight:700;color:#1c1c1c;top:1035.56px;letter-spacing:0.761px;left:1338.00px;">1612 (2025 р.)</span>
<span style="font-family:'DejaVu Sans', 'Liberation Sans', sans-serif;font-size:20.3px;font-weight:400;color:#1c1c1c;top:1036.42px;letter-spacing:-0.032px;left:1487.00px;-webkit-text-stroke:0.22px #fff;">. Питання:</span>
<span style="font-family:'DejaVu Sans', 'Liberation Sans', sans-serif;font-size:20.3px;font-weight:400;color:#1c1c1c;top:1036.42px;font-style:italic;letter-spacing:-1.722px;left:1601.50px;-webkit-text-stroke:0.22px #fff;">«Ви</span>
<span style="font-family:'DejaVu Sans', 'Liberation Sans', sans-serif;font-size:20.3px;font-weight:400;color:#1c1c1c;top:1063.62px;font-style:italic;letter-spacing:0.694px;left:50.00px;-webkit-text-stroke:0.22px #fff;">перевіряєте отриману в медіа інформацію на достовірність додатково чи ні?»</span>
<span style="font-family:'DejaVu Sans', 'Liberation Sans', sans-serif;font-size:20.3px;font-weight:400;color:#1c1c1c;top:1091.82px;letter-spacing:0.140px;left:51.00px;-webkit-text-stroke:0.22px #fff;">* Різниця значуща на рівні 0,05.</span>
<span style="font-family:'DejaVu Sans', 'Liberation Sans', sans-serif;font-size:19.2px;font-weight:400;color:#202020;top:182.75px;letter-spacing:0.030px;left:1136.00px;-webkit-text-stroke:0.22px #fff;">Перевіряю більше 15% інформації</span>
<span style="font-family:'DejaVu Sans', 'Liberation Sans', sans-serif;font-size:19.2px;font-weight:400;color:#202020;top:213.32px;letter-spacing:-0.189px;left:1136.00px;-webkit-text-stroke:0.22px #fff;">Перевіряю від 10 до 15% інформації</span>
<span style="font-family:'DejaVu Sans', 'Liberation Sans', sans-serif;font-size:19.2px;font-weight:400;color:#202020;top:243.89px;letter-spacing:-0.160px;left:1136.00px;-webkit-text-stroke:0.22px #fff;">Перевіряю від 5 до 10% інформації</span>
<span style="font-family:'DejaVu Sans', 'Liberation Sans', sans-serif;font-size:19.2px;font-weight:400;color:#202020;top:274.46px;letter-spacing:-0.310px;left:1136.00px;-webkit-text-stroke:0.22px #fff;">Перевіряю до 5%</span>
<span style="font-family:'DejaVu Sans', 'Liberation Sans', sans-serif;font-size:19.2px;font-weight:400;color:#202020;top:305.03px;letter-spacing:-0.390px;left:1136.00px;-webkit-text-stroke:0.22px #fff;">Не стільки перевіряю на достовірність, скільки шукаю повнішу</span>
<span style="font-family:'DejaVu Sans', 'Liberation Sans', sans-serif;font-size:19.2px;font-weight:400;color:#202020;top:335.60px;letter-spacing:-0.226px;left:1136.00px;-webkit-text-stroke:0.22px #fff;">Ніколи не перевіряю</span>
<span style="font-family:'DejaVu Sans', 'Liberation Sans', sans-serif;font-size:19.2px;font-weight:400;color:#202020;top:366.17px;letter-spacing:-0.173px;left:1136.00px;-webkit-text-stroke:0.22px #fff;">Важко сказати</span>
<span style="font-family:'DejaVu Sans', 'Liberation Sans', sans-serif;font-size:20.8px;font-weight:400;color:#202020;top:399.66px;letter-spacing:0.060px;left:1294.70px;-webkit-text-stroke:0.22px #fff;">Схід</span>
<span style="font-family:'Liberation Sans', 'DejaVu Sans', sans-serif;font-size:25.4px;font-weight:400;color:#fff;top:398.07px;left:1364.62px;width:80px;text-align:center;">20</span>
<span style="font-family:'Liberation Sans', 'DejaVu Sans', sans-serif;font-size:25.4px;font-weight:400;color:#fff;top:398.07px;left:1428.75px;width:80px;text-align:center;">11</span>
<span style="font-family:'Liberation Sans', 'DejaVu Sans', sans-serif;font-size:25.4px;font-weight:400;color:#fff;top:398.07px;left:1469.62px;width:80px;text-align:center;">9</span>
<span style="font-family:'Liberation Sans', 'DejaVu Sans', sans-serif;font-size:25.4px;font-weight:400;color:#fff;top:398.07px;left:1497.75px;width:80px;text-align:center;">4</span>
<span style="font-family:'Liberation Sans', 'DejaVu Sans', sans-serif;font-size:25.4px;font-weight:400;color:#fff;top:398.07px;left:1571.88px;width:80px;text-align:center;">31</span>
<span style="font-family:'Liberation Sans', 'DejaVu Sans', sans-serif;font-size:25.4px;font-weight:400;color:#fff;top:398.07px;left:1682.12px;width:80px;text-align:center;">22</span>
<span style="font-family:'Liberation Sans', 'DejaVu Sans', sans-serif;font-size:25.4px;font-weight:400;color:#fff;top:398.07px;left:1737.12px;width:80px;text-align:center;">4</span>
<span style="font-family:'DejaVu Sans', 'Liberation Sans', sans-serif;font-size:20.8px;font-weight:400;color:#202020;top:426.21px;letter-spacing:-0.508px;left:1258.10px;-webkit-text-stroke:0.22px #fff;">Південь</span>
<span style="font-family:'Liberation Sans', 'DejaVu Sans', sans-serif;font-size:25.4px;font-weight:400;color:#fff;top:424.61px;left:1363.75px;width:80px;text-align:center;">20</span>
<span style="font-family:'Liberation Sans', 'DejaVu Sans', sans-serif;font-size:25.4px;font-weight:400;color:#fff;top:424.61px;left:1422.00px;width:80px;text-align:center;">8</span>
<span style="font-family:'Liberation Sans', 'DejaVu Sans', sans-serif;font-size:25.4px;font-weight:400;color:#fff;top:424.61px;left:1453.50px;width:80px;text-align:center;">7</span>
<span style="font-family:'Liberation Sans', 'DejaVu Sans', sans-serif;font-size:25.4px;font-weight:400;color:#fff;top:424.61px;left:1480.62px;width:80px;text-align:center;">6</span>
<span style="font-family:'Liberation Sans', 'DejaVu Sans', sans-serif;font-size:25.4px;font-weight:400;color:#fff;top:424.61px;left:1551.62px;width:80px;text-align:center;">27</span>
<span style="font-family:'Liberation Sans', 'DejaVu Sans', sans-serif;font-size:25.4px;font-weight:400;color:#fff;top:424.61px;left:1667.25px;width:80px;text-align:center;">27</span>
<span style="font-family:'Liberation Sans', 'DejaVu Sans', sans-serif;font-size:25.4px;font-weight:400;color:#fff;top:424.61px;left:1735.62px;width:80px;text-align:center;">5</span>
<span style="font-family:'DejaVu Sans', 'Liberation Sans', sans-serif;font-size:20.8px;font-weight:400;color:#202020;top:452.75px;letter-spacing:0.210px;left:1273.00px;-webkit-text-stroke:0.22px #fff;">Центр</span>
<span style="font-family:'Liberation Sans', 'DejaVu Sans', sans-serif;font-size:25.4px;font-weight:400;color:#fff;top:451.16px;left:1363.75px;width:80px;text-align:center;">20</span>
<span style="font-family:'Liberation Sans', 'DejaVu Sans', sans-serif;font-size:25.4px;font-weight:400;color:#fff;top:451.16px;left:1421.00px;width:80px;text-align:center;">7</span>
<span style="font-family:'Liberation Sans', 'DejaVu Sans', sans-serif;font-size:25.4px;font-weight:400;color:#fff;top:451.16px;left:1452.25px;width:80px;text-align:center;">7</span>
<span style="font-family:'Liberation Sans', 'DejaVu Sans', sans-serif;font-size:25.4px;font-weight:400;color:#fff;top:451.16px;left:1485.38px;width:80px;text-align:center;">9</span>
<span style="font-family:'Liberation Sans', 'DejaVu Sans', sans-serif;font-size:25.4px;font-weight:400;color:#fff;top:451.16px;left:1545.62px;width:80px;text-align:center;">20</span>
<span style="font-family:'Liberation Sans', 'DejaVu Sans', sans-serif;font-size:25.4px;font-weight:400;color:#fff;top:451.16px;left:1657.75px;width:80px;text-align:center;">33</span>
<span style="font-family:'Liberation Sans', 'DejaVu Sans', sans-serif;font-size:25.4px;font-weight:400;color:#fff;top:451.16px;left:1737.12px;width:80px;text-align:center;">4</span>
<span style="font-family:'DejaVu Sans', 'Liberation Sans', sans-serif;font-size:20.8px;font-weight:400;color:#202020;top:479.29px;letter-spacing:-0.871px;left:1281.80px;-webkit-text-stroke:0.22px #fff;">Північ</span>
<span style="font-family:'Liberation Sans', 'DejaVu Sans', sans-serif;font-size:25.4px;font-weight:400;color:#fff;top:477.70px;left:1361.50px;width:80px;text-align:center;">19</span>
<span style="font-family:'Liberation Sans', 'DejaVu Sans', sans-serif;font-size:25.4px;font-weight:400;color:#fff;top:477.70px;left:1416.25px;width:80px;text-align:center;">7</span>
<span style="font-family:'Liberation Sans', 'DejaVu Sans', sans-serif;font-size:25.4px;font-weight:400;color:#fff;top:477.70px;left:1449.38px;width:80px;text-align:center;">8</span>
<span style="font-family:'Liberation Sans', 'DejaVu Sans', sans-serif;font-size:25.4px;font-weight:400;color:#fff;top:477.70px;left:1483.75px;width:80px;text-align:center;">8</span>
<span style="font-family:'Liberation Sans', 'DejaVu Sans', sans-serif;font-size:25.4px;font-weight:400;color:#fff;top:477.70px;left:1533.75px;width:80px;text-align:center;">16</span>
<span style="font-family:'Liberation Sans', 'DejaVu Sans', sans-serif;font-size:25.4px;font-weight:400;color:#fff;top:477.70px;left:1653.12px;width:80px;text-align:center;">41</span>
<span style="font-family:'Liberation Sans', 'DejaVu Sans', sans-serif;font-size:25.4px;font-weight:400;color:#fff;top:477.70px;left:1743.12px;width:80px;text-align:center;">2</span>
<span style="font-family:'DejaVu Sans', 'Liberation Sans', sans-serif;font-size:20.8px;font-weight:400;color:#202020;top:505.84px;letter-spacing:-0.342px;left:1284.70px;-webkit-text-stroke:0.22px #fff;">Захід</span>
<span style="font-family:'Liberation Sans', 'DejaVu Sans', sans-serif;font-size:25.4px;font-weight:400;color:#fff;top:504.24px;left:1372.75px;width:80px;text-align:center;">24</span>
<span style="font-family:'Liberation Sans', 'DejaVu Sans', sans-serif;font-size:25.4px;font-weight:400;color:#fff;top:504.24px;left:1444.75px;width:80px;text-align:center;">11</span>
<span style="font-family:'Liberation Sans', 'DejaVu Sans', sans-serif;font-size:25.4px;font-weight:400;color:#fff;top:504.24px;left:1484.12px;width:80px;text-align:center;">8</span>
<span style="font-family:'Liberation Sans', 'DejaVu Sans', sans-serif;font-size:25.4px;font-weight:400;color:#fff;top:504.24px;left:1517.50px;width:80px;text-align:center;">8</span>
<span style="font-family:'Liberation Sans', 'DejaVu Sans', sans-serif;font-size:25.4px;font-weight:400;color:#fff;top:504.24px;left:1577.25px;width:80px;text-align:center;">21</span>
<span style="font-family:'Liberation Sans', 'DejaVu Sans', sans-serif;font-size:25.4px;font-weight:400;color:#fff;top:504.24px;left:1673.88px;width:80px;text-align:center;">25</span>
<span style="font-family:'Liberation Sans', 'DejaVu Sans', sans-serif;font-size:25.4px;font-weight:400;color:#fff;top:504.24px;left:1736.62px;width:80px;text-align:center;">5</span>
<span style="font-family:'DejaVu Sans', 'Liberation Sans', sans-serif;font-size:20.8px;font-weight:400;color:#202020;top:558.92px;letter-spacing:0.774px;left:1121.70px;-webkit-text-stroke:0.22px #fff;">Вищий за середній</span>
<span style="font-family:'Liberation Sans', 'DejaVu Sans', sans-serif;font-size:25.4px;font-weight:400;color:#fff;top:557.33px;left:1374.62px;width:80px;text-align:center;">25</span>
<span style="font-family:'Liberation Sans', 'DejaVu Sans', sans-serif;font-size:25.4px;font-weight:400;color:#fff;top:557.33px;left:1448.12px;width:80px;text-align:center;">10</span>
<span style="font-family:'Liberation Sans', 'DejaVu Sans', sans-serif;font-size:25.4px;font-weight:400;color:#fff;top:557.33px;left:1483.12px;width:80px;text-align:center;">6</span>
<span style="font-family:'Liberation Sans', 'DejaVu Sans', sans-serif;font-size:25.4px;font-weight:400;color:#fff;top:557.33px;left:1515.00px;width:80px;text-align:center;">9</span>
<span style="font-family:'Liberation Sans', 'DejaVu Sans', sans-serif;font-size:25.4px;font-weight:400;color:#fff;top:557.33px;left:1586.88px;width:80px;text-align:center;">25</span>
<span style="font-family:'Liberation Sans', 'DejaVu Sans', sans-serif;font-size:25.4px;font-weight:400;color:#fff;top:557.33px;left:1687.50px;width:80px;text-align:center;">22</span>
<span style="font-family:'Liberation Sans', 'DejaVu Sans', sans-serif;font-size:25.4px;font-weight:400;color:#fff;top:557.33px;left:1740.62px;width:80px;text-align:center;">3</span>
<span style="font-family:'DejaVu Sans', 'Liberation Sans', sans-serif;font-size:20.8px;font-weight:400;color:#202020;top:585.47px;letter-spacing:1.275px;left:1233.50px;-webkit-text-stroke:0.22px #fff;">Середній</span>
<span style="font-family:'Liberation Sans', 'DejaVu Sans', sans-serif;font-size:25.4px;font-weight:400;color:#fff;top:583.87px;left:1369.62px;width:80px;text-align:center;">23</span>
<span style="font-family:'Liberation Sans', 'DejaVu Sans', sans-serif;font-size:25.4px;font-weight:400;color:#fff;top:583.87px;left:1434.38px;width:80px;text-align:center;">8</span>
<span style="font-family:'Liberation Sans', 'DejaVu Sans', sans-serif;font-size:25.4px;font-weight:400;color:#fff;top:583.87px;left:1472.25px;width:80px;text-align:center;">9</span>
<span style="font-family:'Liberation Sans', 'DejaVu Sans', sans-serif;font-size:25.4px;font-weight:400;color:#fff;top:583.87px;left:1507.88px;width:80px;text-align:center;">7</span>
<span style="font-family:'Liberation Sans', 'DejaVu Sans', sans-serif;font-size:25.4px;font-weight:400;color:#fff;top:583.87px;left:1566.62px;width:80px;text-align:center;">20</span>
<span style="font-family:'Liberation Sans', 'DejaVu Sans', sans-serif;font-size:25.4px;font-weight:400;color:#fff;top:583.87px;left:1673.75px;width:80px;text-align:center;">30</span>
<span style="font-family:'Liberation Sans', 'DejaVu Sans', sans-serif;font-size:25.4px;font-weight:400;color:#fff;top:583.87px;left:1742.12px;width:80px;text-align:center;">2</span>
<span style="font-family:'DejaVu Sans', 'Liberation Sans', sans-serif;font-size:20.8px;font-weight:400;color:#202020;top:612.01px;letter-spacing:0.399px;left:1114.50px;-webkit-text-stroke:0.22px #fff;">Нижчий за середній</span>
<span style="font-family:'Liberation Sans', 'DejaVu Sans', sans-serif;font-size:25.4px;font-weight:400;color:#fff;top:610.41px;left:1361.25px;width:80px;text-align:center;">18</span>
<span style="font-family:'Liberation Sans', 'DejaVu Sans', sans-serif;font-size:25.4px;font-weight:400;color:#fff;top:610.41px;left:1418.50px;width:80px;text-align:center;">9</span>
<span style="font-family:'Liberation Sans', 'DejaVu Sans', sans-serif;font-size:25.4px;font-weight:400;color:#fff;top:610.41px;left:1450.62px;width:80px;text-align:center;">6</span>
<span style="font-family:'Liberation Sans', 'DejaVu Sans', sans-serif;font-size:25.4px;font-weight:400;color:#fff;top:610.41px;left:1478.75px;width:80px;text-align:center;">7</span>
<span style="font-family:'Liberation Sans', 'DejaVu Sans', sans-serif;font-size:25.4px;font-weight:400;color:#fff;top:610.41px;left:1542.75px;width:80px;text-align:center;">23</span>
<span style="font-family:'Liberation Sans', 'DejaVu Sans', sans-serif;font-size:25.4px;font-weight:400;color:#fff;top:610.41px;left:1661.50px;width:80px;text-align:center;">33</span>
<span style="font-family:'Liberation Sans', 'DejaVu Sans', sans-serif;font-size:25.4px;font-weight:400;color:#fff;top:610.41px;left:1738.75px;width:80px;text-align:center;">4</span>
<span style="font-family:'DejaVu Sans', 'Liberation Sans', sans-serif;font-size:20.8px;font-weight:400;color:#202020;top:638.55px;letter-spacing:-0.160px;left:1251.90px;-webkit-text-stroke:0.22px #fff;">Низький</span>
<span style="font-family:'Liberation Sans', 'DejaVu Sans', sans-serif;font-size:25.4px;font-weight:400;color:#fff;top:636.96px;left:1356.50px;width:80px;text-align:center;">16</span>
<span style="font-family:'Liberation Sans', 'DejaVu Sans', sans-serif;font-size:25.4px;font-weight:400;color:#fff;top:636.96px;left:1406.88px;width:80px;text-align:center;">8</span>
<span style="font-family:'Liberation Sans', 'DejaVu Sans', sans-serif;font-size:25.4px;font-weight:400;color:#fff;top:636.96px;left:1439.12px;width:80px;text-align:center;">7</span>
<span style="font-family:'Liberation Sans', 'DejaVu Sans', sans-serif;font-size:25.4px;font-weight:400;color:#fff;top:636.96px;left:1469.75px;width:80px;text-align:center;">7</span>
<span style="font-family:'Liberation Sans', 'DejaVu Sans', sans-serif;font-size:25.4px;font-weight:400;color:#fff;top:636.96px;left:1527.50px;width:80px;text-align:center;">20</span>
<span style="font-family:'Liberation Sans', 'DejaVu Sans', sans-serif;font-size:25.4px;font-weight:400;color:#fff;top:636.96px;left:1640.00px;width:80px;text-align:center;">33</span>
<span style="font-family:'Liberation Sans', 'DejaVu Sans', sans-serif;font-size:25.4px;font-weight:400;color:#fff;top:636.96px;left:1728.12px;width:80px;text-align:center;">8</span>
<span style="font-family:'DejaVu Sans', 'Liberation Sans', sans-serif;font-size:20.8px;font-weight:400;color:#202020;top:691.64px;letter-spacing:0.741px;left:1078.60px;-webkit-text-stroke:0.22px #fff;">Повна / неповна&nbsp; вища</span>
<span style="font-family:'Liberation Sans', 'DejaVu Sans', sans-serif;font-size:25.4px;font-weight:400;color:#fff;top:690.04px;left:1372.12px;width:80px;text-align:center;">24</span>
<span style="font-family:'Liberation Sans', 'DejaVu Sans', sans-serif;font-size:25.4px;font-weight:400;color:#fff;top:690.04px;left:1444.38px;width:80px;text-align:center;">11</span>
<span style="font-family:'Liberation Sans', 'DejaVu Sans', sans-serif;font-size:25.4px;font-weight:400;color:#fff;top:690.04px;left:1485.62px;width:80px;text-align:center;">9</span>
<span style="font-family:'Liberation Sans', 'DejaVu Sans', sans-serif;font-size:25.4px;font-weight:400;color:#fff;top:690.04px;left:1520.62px;width:80px;text-align:center;">8</span>
<span style="font-family:'Liberation Sans', 'DejaVu Sans', sans-serif;font-size:25.4px;font-weight:400;color:#fff;top:690.04px;left:1591.25px;width:80px;text-align:center;">25</span>
<span style="font-family:'Liberation Sans', 'DejaVu Sans', sans-serif;font-size:25.4px;font-weight:400;color:#fff;top:690.04px;left:1688.75px;width:80px;text-align:center;">21</span>
<span style="font-family:'Liberation Sans', 'DejaVu Sans', sans-serif;font-size:25.4px;font-weight:400;color:#fff;top:690.04px;left:1739.38px;width:80px;text-align:center;">3</span>
<span style="font-family:'DejaVu Sans', 'Liberation Sans', sans-serif;font-size:20.8px;font-weight:400;color:#202020;top:718.18px;letter-spacing:0.849px;left:1106.00px;-webkit-text-stroke:0.22px #fff;">Середня спеціальна</span>
<span style="font-family:'Liberation Sans', 'DejaVu Sans', sans-serif;font-size:25.4px;font-weight:400;color:#fff;top:716.59px;left:1357.12px;width:80px;text-align:center;">16</span>
<span style="font-family:'Liberation Sans', 'DejaVu Sans', sans-serif;font-size:25.4px;font-weight:400;color:#fff;top:716.59px;left:1408.12px;width:80px;text-align:center;">8</span>
<span style="font-family:'Liberation Sans', 'DejaVu Sans', sans-serif;font-size:25.4px;font-weight:400;color:#fff;top:716.59px;left:1439.38px;width:80px;text-align:center;">7</span>
<span style="font-family:'Liberation Sans', 'DejaVu Sans', sans-serif;font-size:25.4px;font-weight:400;color:#fff;top:716.59px;left:1465.62px;width:80px;text-align:center;">6</span>
<span style="font-family:'Liberation Sans', 'DejaVu Sans', sans-serif;font-size:25.4px;font-weight:400;color:#fff;top:716.59px;left:1519.38px;width:80px;text-align:center;">20</span>
<span style="font-family:'Liberation Sans', 'DejaVu Sans', sans-serif;font-size:25.4px;font-weight:400;color:#fff;top:716.59px;left:1643.75px;width:80px;text-align:center;">39</span>
<span style="font-family:'Liberation Sans', 'DejaVu Sans', sans-serif;font-size:25.4px;font-weight:400;color:#fff;top:716.59px;left:1736.25px;width:80px;text-align:center;">5</span>
<span style="font-family:'DejaVu Sans', 'Liberation Sans', sans-serif;font-size:20.8px;font-weight:400;color:#202020;top:744.72px;letter-spacing:0.325px;left:1009.10px;-webkit-text-stroke:0.22px #fff;">Початкова, середня загальна</span>
<span style="font-family:'Liberation Sans', 'DejaVu Sans', sans-serif;font-size:25.4px;font-weight:400;color:#fff;top:743.13px;left:1365.25px;width:80px;text-align:center;">20</span>
<span style="font-family:'Liberation Sans', 'DejaVu Sans', sans-serif;font-size:25.4px;font-weight:400;color:#fff;top:743.13px;left:1417.50px;width:80px;text-align:center;">4</span>
<span style="font-family:'Liberation Sans', 'DejaVu Sans', sans-serif;font-size:25.4px;font-weight:400;color:#fff;top:743.13px;left:1440.00px;width:80px;text-align:center;">6</span>
<span style="font-family:'Liberation Sans', 'DejaVu Sans', sans-serif;font-size:25.4px;font-weight:400;color:#fff;top:743.13px;left:1471.25px;width:80px;text-align:center;">9</span>
<span style="font-family:'Liberation Sans', 'DejaVu Sans', sans-serif;font-size:25.4px;font-weight:400;color:#fff;top:743.13px;left:1520.62px;width:80px;text-align:center;">14</span>
<span style="font-family:'Liberation Sans', 'DejaVu Sans', sans-serif;font-size:25.4px;font-weight:400;color:#fff;top:743.13px;left:1641.25px;width:80px;text-align:center;">42</span>
<span style="font-family:'Liberation Sans', 'DejaVu Sans', sans-serif;font-size:25.4px;font-weight:400;color:#fff;top:743.13px;left:1738.75px;width:80px;text-align:center;">4</span>
<span style="font-family:'DejaVu Sans', 'Liberation Sans', sans-serif;font-size:20.8px;font-weight:400;color:#202020;top:797.81px;letter-spacing:-0.221px;left:1217.50px;-webkit-text-stroke:0.22px #fff;">56–65 років</span>
<span style="font-family:'Liberation Sans', 'DejaVu Sans', sans-serif;font-size:25.4px;font-weight:400;color:#fff;top:796.22px;left:1351.50px;width:80px;text-align:center;">14</span>
<span style="font-family:'Liberation Sans', 'DejaVu Sans', sans-serif;font-size:25.4px;font-weight:400;color:#fff;top:796.22px;left:1395.62px;width:80px;text-align:center;">7</span>
<span style="font-family:'Liberation Sans', 'DejaVu Sans', sans-serif;font-size:25.4px;font-weight:400;color:#fff;top:796.22px;left:1423.12px;width:80px;text-align:center;">6</span>
<span style="font-family:'Liberation Sans', 'DejaVu Sans', sans-serif;font-size:25.4px;font-weight:400;color:#fff;top:796.22px;left:1447.50px;width:80px;text-align:center;">6</span>
<span style="font-family:'Liberation Sans', 'DejaVu Sans', sans-serif;font-size:25.4px;font-weight:400;color:#fff;top:796.22px;left:1508.12px;width:80px;text-align:center;">23</span>
<span style="font-family:'Liberation Sans', 'DejaVu Sans', sans-serif;font-size:25.4px;font-weight:400;color:#fff;top:796.22px;left:1642.12px;width:80px;text-align:center;">40</span>
<span style="font-family:'Liberation Sans', 'DejaVu Sans', sans-serif;font-size:25.4px;font-weight:400;color:#fff;top:796.22px;left:1737.12px;width:80px;text-align:center;">4</span>
<span style="font-family:'DejaVu Sans', 'Liberation Sans', sans-serif;font-size:20.8px;font-weight:400;color:#202020;top:824.35px;letter-spacing:-0.221px;left:1217.50px;-webkit-text-stroke:0.22px #fff;">46–55 років</span>
<span style="font-family:'Liberation Sans', 'DejaVu Sans', sans-serif;font-size:25.4px;font-weight:400;color:#fff;top:822.76px;left:1364.62px;width:80px;text-align:center;">20</span>
<span style="font-family:'Liberation Sans', 'DejaVu Sans', sans-serif;font-size:25.4px;font-weight:400;color:#fff;top:822.76px;left:1426.88px;width:80px;text-align:center;">10</span>
<span style="font-family:'Liberation Sans', 'DejaVu Sans', sans-serif;font-size:25.4px;font-weight:400;color:#fff;top:822.76px;left:1461.25px;width:80px;text-align:center;">7</span>
<span style="font-family:'Liberation Sans', 'DejaVu Sans', sans-serif;font-size:25.4px;font-weight:400;color:#fff;top:822.76px;left:1491.88px;width:80px;text-align:center;">8</span>
<span style="font-family:'Liberation Sans', 'DejaVu Sans', sans-serif;font-size:25.4px;font-weight:400;color:#fff;top:822.76px;left:1560.00px;width:80px;text-align:center;">24</span>
<span style="font-family:'Liberation Sans', 'DejaVu Sans', sans-serif;font-size:25.4px;font-weight:400;color:#fff;top:822.76px;left:1673.75px;width:80px;text-align:center;">29</span>
<span style="font-family:'Liberation Sans', 'DejaVu Sans', sans-serif;font-size:25.4px;font-weight:400;color:#fff;top:822.76px;left:1741.25px;width:80px;text-align:center;">2</span>
<span style="font-family:'DejaVu Sans', 'Liberation Sans', sans-serif;font-size:20.8px;font-weight:400;color:#202020;top:850.90px;letter-spacing:-0.221px;left:1217.50px;-webkit-text-stroke:0.22px #fff;">36–45 років</span>
<span style="font-family:'Liberation Sans', 'DejaVu Sans', sans-serif;font-size:25.4px;font-weight:400;color:#fff;top:849.30px;left:1367.75px;width:80px;text-align:center;">22</span>
<span style="font-family:'Liberation Sans', 'DejaVu Sans', sans-serif;font-size:25.4px;font-weight:400;color:#fff;top:849.30px;left:1432.50px;width:80px;text-align:center;">9</span>
<span style="font-family:'Liberation Sans', 'DejaVu Sans', sans-serif;font-size:25.4px;font-weight:400;color:#fff;top:849.30px;left:1473.75px;width:80px;text-align:center;">11</span>
<span style="font-family:'Liberation Sans', 'DejaVu Sans', sans-serif;font-size:25.4px;font-weight:400;color:#fff;top:849.30px;left:1515.62px;width:80px;text-align:center;">10</span>
<span style="font-family:'Liberation Sans', 'DejaVu Sans', sans-serif;font-size:25.4px;font-weight:400;color:#fff;top:849.30px;left:1581.25px;width:80px;text-align:center;">22</span>
<span style="font-family:'Liberation Sans', 'DejaVu Sans', sans-serif;font-size:25.4px;font-weight:400;color:#fff;top:849.30px;left:1679.38px;width:80px;text-align:center;">25</span>
<span style="font-family:'Liberation Sans', 'DejaVu Sans', sans-serif;font-size:25.4px;font-weight:400;color:#fff;top:849.30px;left:1739.38px;width:80px;text-align:center;">3</span>
<span style="font-family:'DejaVu Sans', 'Liberation Sans', sans-serif;font-size:20.8px;font-weight:400;color:#202020;top:877.44px;letter-spacing:-0.221px;left:1217.50px;-webkit-text-stroke:0.22px #fff;">26–35 років</span>
<span style="font-family:'Liberation Sans', 'DejaVu Sans', sans-serif;font-size:25.4px;font-weight:400;color:#fff;top:875.84px;left:1370.50px;width:80px;text-align:center;">23</span>
<span style="font-family:'Liberation Sans', 'DejaVu Sans', sans-serif;font-size:25.4px;font-weight:400;color:#fff;top:875.84px;left:1435.88px;width:80px;text-align:center;">8</span>
<span style="font-family:'Liberation Sans', 'DejaVu Sans', sans-serif;font-size:25.4px;font-weight:400;color:#fff;top:875.84px;left:1471.25px;width:80px;text-align:center;">9</span>
<span style="font-family:'Liberation Sans', 'DejaVu Sans', sans-serif;font-size:25.4px;font-weight:400;color:#fff;top:875.84px;left:1500.38px;width:80px;text-align:center;">5</span>
<span style="font-family:'Liberation Sans', 'DejaVu Sans', sans-serif;font-size:25.4px;font-weight:400;color:#fff;top:875.84px;left:1556.62px;width:80px;text-align:center;">21</span>
<span style="font-family:'Liberation Sans', 'DejaVu Sans', sans-serif;font-size:25.4px;font-weight:400;color:#fff;top:875.84px;left:1664.62px;width:80px;text-align:center;">30</span>
<span style="font-family:'Liberation Sans', 'DejaVu Sans', sans-serif;font-size:25.4px;font-weight:400;color:#fff;top:875.84px;left:1737.12px;width:80px;text-align:center;">4</span>
<span style="font-family:'DejaVu Sans', 'Liberation Sans', sans-serif;font-size:20.8px;font-weight:400;color:#202020;top:903.98px;letter-spacing:-0.321px;left:1218.50px;-webkit-text-stroke:0.22px #fff;">18–25 років</span>
<span style="font-family:'Liberation Sans', 'DejaVu Sans', sans-serif;font-size:25.4px;font-weight:400;color:#fff;top:902.39px;left:1375.25px;width:80px;text-align:center;">25</span>
<span style="font-family:'Liberation Sans', 'DejaVu Sans', sans-serif;font-size:25.4px;font-weight:400;color:#fff;top:902.39px;left:1451.88px;width:80px;text-align:center;">11</span>
<span style="font-family:'Liberation Sans', 'DejaVu Sans', sans-serif;font-size:25.4px;font-weight:400;color:#fff;top:902.39px;left:1489.38px;width:80px;text-align:center;">6</span>
<span style="font-family:'Liberation Sans', 'DejaVu Sans', sans-serif;font-size:25.4px;font-weight:400;color:#fff;top:902.39px;left:1519.38px;width:80px;text-align:center;">8</span>
<span style="font-family:'Liberation Sans', 'DejaVu Sans', sans-serif;font-size:25.4px;font-weight:400;color:#fff;top:902.39px;left:1572.50px;width:80px;text-align:center;">17</span>
<span style="font-family:'Liberation Sans', 'DejaVu Sans', sans-serif;font-size:25.4px;font-weight:400;color:#fff;top:902.39px;left:1664.38px;width:80px;text-align:center;">26</span>
<span style="font-family:'Liberation Sans', 'DejaVu Sans', sans-serif;font-size:25.4px;font-weight:400;color:#fff;top:902.39px;left:1733.12px;width:80px;text-align:center;">6</span>
<span style="font-family:'DejaVu Sans', 'Liberation Sans', sans-serif;font-size:20.8px;font-weight:400;color:#202020;top:957.07px;letter-spacing:-0.061px;left:1264.00px;-webkit-text-stroke:0.22px #fff;">Жіноча</span>
<span style="font-family:'Liberation Sans', 'DejaVu Sans', sans-serif;font-size:25.4px;font-weight:400;color:#fff;top:955.47px;left:1357.50px;width:80px;text-align:center;">17</span>
<span style="font-family:'Liberation Sans', 'DejaVu Sans', sans-serif;font-size:25.4px;font-weight:400;color:#fff;top:955.47px;left:1408.75px;width:80px;text-align:center;">8</span>
<span style="font-family:'Liberation Sans', 'DejaVu Sans', sans-serif;font-size:25.4px;font-weight:400;color:#fff;top:955.47px;left:1441.75px;width:80px;text-align:center;">8</span>
<span style="font-family:'Liberation Sans', 'DejaVu Sans', sans-serif;font-size:25.4px;font-weight:400;color:#fff;top:955.47px;left:1473.38px;width:80px;text-align:center;">7</span>
<span style="font-family:'Liberation Sans', 'DejaVu Sans', sans-serif;font-size:25.4px;font-weight:400;color:#fff;top:955.47px;left:1538.75px;width:80px;text-align:center;">24</span>
<span style="font-family:'Liberation Sans', 'DejaVu Sans', sans-serif;font-size:25.4px;font-weight:400;color:#fff;top:955.47px;left:1658.38px;width:80px;text-align:center;">33</span>
<span style="font-family:'Liberation Sans', 'DejaVu Sans', sans-serif;font-size:25.4px;font-weight:400;color:#fff;top:955.47px;left:1737.12px;width:80px;text-align:center;">4</span>
<span style="font-family:'DejaVu Sans', 'Liberation Sans', sans-serif;font-size:20.8px;font-weight:400;color:#202020;top:983.61px;letter-spacing:0.138px;left:1246.20px;-webkit-text-stroke:0.22px #fff;">Чоловіча</span>
<span style="font-family:'Liberation Sans', 'DejaVu Sans', sans-serif;font-size:25.4px;font-weight:400;color:#fff;top:982.02px;left:1374.25px;width:80px;text-align:center;">25</span>
<span style="font-family:'Liberation Sans', 'DejaVu Sans', sans-serif;font-size:25.4px;font-weight:400;color:#fff;top:982.02px;left:1446.50px;width:80px;text-align:center;">10</span>
<span style="font-family:'Liberation Sans', 'DejaVu Sans', sans-serif;font-size:25.4px;font-weight:400;color:#fff;top:982.02px;left:1483.75px;width:80px;text-align:center;">8</span>
<span style="font-family:'Liberation Sans', 'DejaVu Sans', sans-serif;font-size:25.4px;font-weight:400;color:#fff;top:982.02px;left:1516.25px;width:80px;text-align:center;">7</span>
<span style="font-family:'Liberation Sans', 'DejaVu Sans', sans-serif;font-size:25.4px;font-weight:400;color:#fff;top:982.02px;left:1574.00px;width:80px;text-align:center;">20</span>
<span style="font-family:'Liberation Sans', 'DejaVu Sans', sans-serif;font-size:25.4px;font-weight:400;color:#fff;top:982.02px;left:1674.00px;width:80px;text-align:center;">27</span>
<span style="font-family:'Liberation Sans', 'DejaVu Sans', sans-serif;font-size:25.4px;font-weight:400;color:#fff;top:982.02px;left:1739.38px;width:80px;text-align:center;">4</span>
</div></body></html>
